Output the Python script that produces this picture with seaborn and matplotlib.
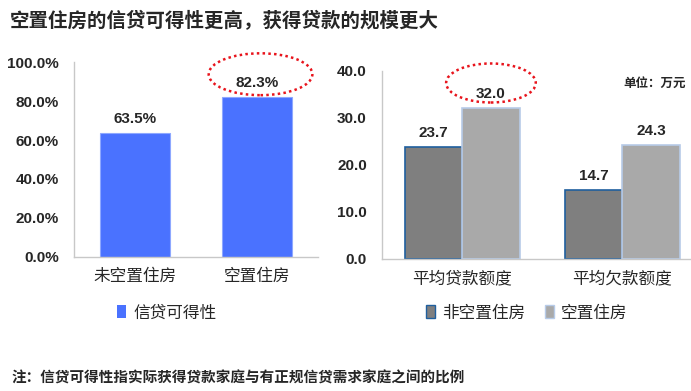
import pandas as pd
import matplotlib
matplotlib.use("Agg")
import matplotlib.pyplot as plt
from matplotlib.patches import Ellipse, Patch
import seaborn as sns

sns.set_theme(style="white")
plt.rcParams['font.family'] = ['Liberation Sans', 'Noto Sans CJK SC']

# left panel data
house_types = ['未空置住房', '空置住房']
credit_access = [0.635, 0.823]

# right panel data
loan_items = ['平均贷款额度', '平均欠款额度']
non_vacant = [23.7, 14.7]
vacant = [32.0, 24.3]
groups = ['非空置住房', '空置住房']

blue = '#4a72ff'
dark = '#7f7f7f'
light = '#a9a9a9'

fig = plt.figure(figsize=(6.91, 3.91), dpi=100)

fig.text(0.014, 0.945, '空置住房的信贷可得性更高，获得贷款的规模更大',
         fontsize=14, fontweight='bold', va='center', ha='left')
fig.text(0.017, 0.033, '注：信贷可得性指实际获得贷款家庭与有正规信贷需求家庭之间的比例',
         fontsize=10.5, fontweight='bold', va='center', ha='left')

# ---- left: credit availability
ax1 = fig.add_axes([0.107, 0.343, 0.353, 0.498])
left_df = pd.DataFrame({'type': house_types, 'rate': credit_access})
sns.barplot(data=left_df, x='type', y='rate', color=blue, width=0.57,
            saturation=1, edgecolor='#8ea8ff', linewidth=0.8, ax=ax1)
ax1.set_ylim(0, 1)
ax1.set_xlim(-0.5, 1.5)
ax1.set_yticks([0, 0.2, 0.4, 0.6, 0.8, 1.0])
ax1.set_yticklabels([f'{v * 100:.1f}%' for v in [0, 0.2, 0.4, 0.6, 0.8, 1.0]],
                    fontsize=11, fontweight='bold')
ax1.set_xlabel('')
ax1.set_ylabel('')
ax1.tick_params(axis='x', labelsize=12, pad=8, length=0)
ax1.tick_params(axis='y', pad=11, length=0)
ax1.bar_label(ax1.containers[0], labels=[f'{v * 100:.1f}%' for v in credit_access],
              padding=5, fontsize=11, fontweight='bold')
for s in ['top', 'right']:
    ax1.spines[s].set_visible(False)
for s in ['left', 'bottom']:
    ax1.spines[s].set_color('#c8c8c8')
    ax1.spines[s].set_linewidth(1)
ax1.add_patch(Ellipse((1.03, 0.938), 0.85, 0.215, fill=False, edgecolor='#e8141c',
                      linestyle=(0, (1, 1.3)), linewidth=1.8, clip_on=False))
ax1.legend(handles=[Patch(facecolor=blue, edgecolor='none', label='信贷可得性')],
           loc='center left', bbox_to_anchor=(0.148, 0.2), bbox_transform=fig.transFigure,
           frameon=False, fontsize=12, handlelength=0.55, handleheight=0.8,
           handletextpad=0.4)

# ---- right: loan amounts
ax2 = fig.add_axes([0.553, 0.338, 0.447, 0.481])
right_df = pd.DataFrame({
    'item': loan_items * 2,
    'group': [groups[0]] * 2 + [groups[1]] * 2,
    'amount': non_vacant + vacant,
})
sns.barplot(data=right_df, x='item', y='amount', hue='group', hue_order=groups,
            palette=[dark, light], width=0.72, saturation=1, ax=ax2, legend=False)
edge_cols = ['#1f5f9e', '#b7cbe8']
for cont, ec, vals in zip(ax2.containers, edge_cols, [non_vacant, vacant]):
    for b in cont:
        b.set_edgecolor(ec)
        b.set_linewidth(1.2)
    ax2.bar_label(cont, labels=[f'{v:.1f}' for v in vals], padding=5,
                  fontsize=11, fontweight='bold')
ax2.set_ylim(0, 40)
ax2.set_xlim(-0.5, 1.43)
ax2.set_yticks([0, 10, 20, 30, 40])
ax2.set_yticklabels([f'{v:.1f}' for v in [0, 10, 20, 30, 40]], fontsize=11, fontweight='bold')
ax2.set_xlabel('')
ax2.set_ylabel('')
ax2.tick_params(axis='x', labelsize=12, pad=8, length=0)
ax2.tick_params(axis='y', pad=11, length=0)
for s in ['top', 'right']:
    ax2.spines[s].set_visible(False)
for s in ['left', 'bottom']:
    ax2.spines[s].set_color('#c8c8c8')
    ax2.spines[s].set_linewidth(1)
ax2.add_patch(Ellipse((0.18, 37.4), 0.56, 8.3, fill=False, edgecolor='#e8141c',
                      linestyle=(0, (1, 1.3)), linewidth=1.8, clip_on=False))
ax2.text(0.985, 0.93, '单位：万元', transform=ax2.transAxes, ha='right', va='center',
         fontsize=9, fontweight='bold')
ax2.legend(handles=[Patch(facecolor=dark, edgecolor='#1f5f9e', label=groups[0]),
                    Patch(facecolor=light, edgecolor='#b7cbe8', label=groups[1])],
           loc='center left', bbox_to_anchor=(0.595, 0.2), bbox_transform=fig.transFigure,
           frameon=False, fontsize=12, ncol=2, handlelength=0.55, handleheight=0.8,
           handletextpad=0.4, columnspacing=1.2)

fig.savefig('out.png', dpi=100)
